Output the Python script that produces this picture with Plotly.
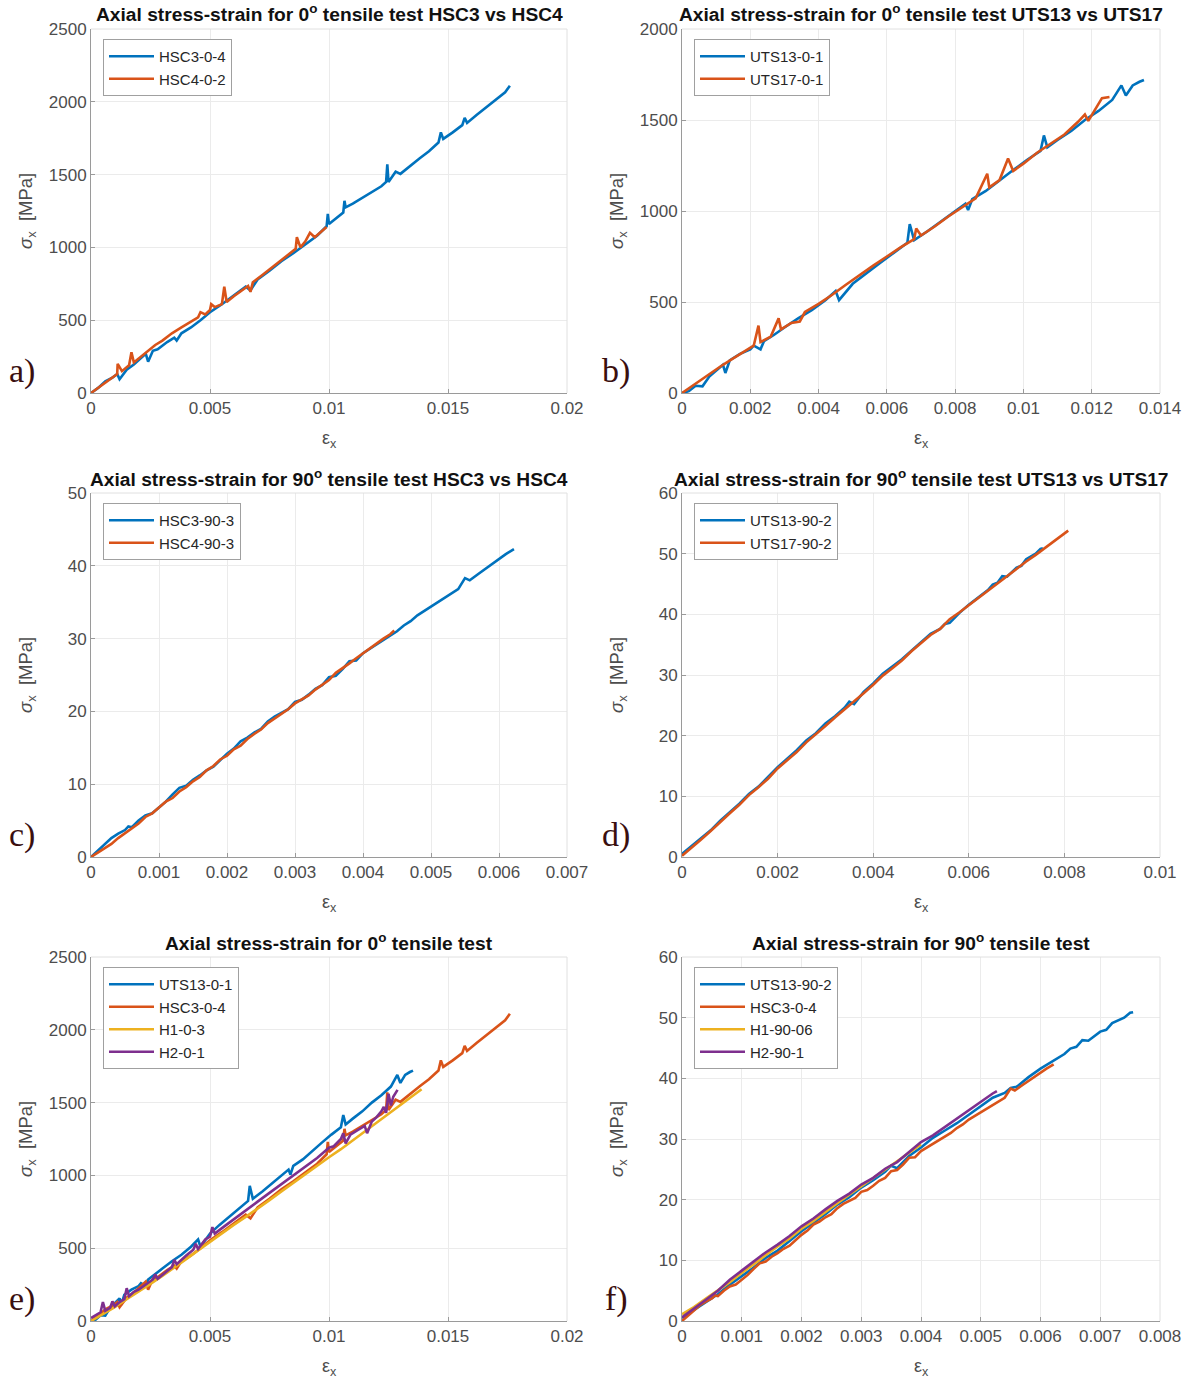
import plotly.graph_objects as go

BLUE, ORANGE, YELLOW, PURPLE = "#0072BD", "#D95319", "#EDB120", "#7E2F8E"

# ---------------- data (strain, stress MPa) ----------------
HSC3_0_4 = [(0, 0), (0.0003, 35), (0.0006, 80), (0.0009, 105), (0.0011, 130), (0.0012, 95), (0.0015, 160),
            (0.0018, 195), (0.0021, 240), (0.0023, 270), (0.0024, 215), (0.0026, 290), (0.0028, 300),
            (0.0032, 350), (0.0035, 380), (0.0036, 360), (0.0038, 410), (0.0042, 450), (0.0046, 500),
            (0.005, 555), (0.0055, 610), (0.006, 670), (0.0065, 730), (0.0067, 705), (0.007, 780),
            (0.0075, 840), (0.008, 905), (0.0085, 960), (0.009, 1020), (0.0095, 1080), (0.0099, 1145),
            (0.00995, 1230), (0.01, 1160), (0.0103, 1200), (0.0106, 1240), (0.01065, 1320), (0.0107, 1275),
            (0.011, 1300), (0.0114, 1340), (0.0118, 1380), (0.0122, 1420), (0.0124, 1450), (0.01245, 1570),
            (0.0125, 1450), (0.0127, 1500), (0.0128, 1520), (0.013, 1505), (0.0134, 1560), (0.0138, 1610),
            (0.0142, 1660), (0.0146, 1720), (0.0147, 1790), (0.0148, 1745), (0.0152, 1790), (0.0156, 1840),
            (0.0157, 1890), (0.0158, 1855), (0.0162, 1910), (0.0166, 1960), (0.017, 2010), (0.0174, 2065),
            (0.0176, 2110)]

HSC4_0_2 = [(0, 0), (0.0003, 35), (0.0006, 70), (0.0009, 105), (0.0011, 130), (0.00112, 200), (0.0013, 150),
            (0.0016, 190), (0.0017, 280), (0.0018, 210), (0.0021, 250), (0.0024, 290), (0.0027, 330),
            (0.003, 360), (0.0034, 410), (0.0038, 450), (0.0042, 490), (0.0045, 520), (0.0046, 555),
            (0.0048, 540), (0.005, 570), (0.00505, 610), (0.0052, 590), (0.0055, 610), (0.0056, 730),
            (0.0057, 625), (0.006, 665), (0.0063, 700), (0.0066, 735), (0.0067, 695), (0.0068, 760),
            (0.0072, 810), (0.0076, 860), (0.008, 910), (0.0083, 950), (0.0086, 990), (0.00865, 1070),
            (0.0088, 1000), (0.009, 1040), (0.0092, 1100), (0.0094, 1070), (0.0097, 1110), (0.0099, 1140)]

UTS13_0_1 = [(0, 0), (0.0002, 10), (0.0004, 40), (0.0006, 37), (0.0008, 90), (0.001, 120), (0.0012, 155),
             (0.00127, 110), (0.0014, 180), (0.0017, 215), (0.002, 240), (0.0021, 260), (0.0023, 240),
             (0.0024, 285), (0.0027, 320), (0.003, 360), (0.0034, 410), (0.0038, 455), (0.0042, 510),
             (0.0045, 560), (0.0046, 510), (0.005, 600), (0.0054, 660), (0.0058, 715), (0.0062, 770),
             (0.0066, 825), (0.00667, 928), (0.0068, 840), (0.0072, 890), (0.0076, 945), (0.008, 995),
             (0.0083, 1040), (0.00838, 1005), (0.0085, 1065), (0.0089, 1110), (0.0093, 1170), (0.0097, 1225),
             (0.0101, 1280), (0.0105, 1330), (0.0106, 1415), (0.0107, 1350), (0.011, 1390), (0.0114, 1440),
             (0.0118, 1500), (0.0122, 1550), (0.0126, 1610), (0.01287, 1690), (0.013, 1635), (0.0132, 1690),
             (0.0134, 1710), (0.01353, 1720)]

UTS17_0_1 = [(0, 0), (0.0003, 40), (0.0006, 80), (0.0009, 115), (0.0012, 155), (0.0015, 190), (0.0018, 225),
             (0.0021, 260), (0.00224, 370), (0.0023, 280), (0.0026, 310), (0.00283, 410), (0.0029, 350),
             (0.0032, 385), (0.00345, 393), (0.0036, 445), (0.004, 490), (0.0044, 540), (0.0048, 595),
             (0.0052, 650), (0.0056, 700), (0.006, 750), (0.0064, 800), (0.0068, 845), (0.00686, 904),
             (0.007, 865), (0.0074, 915), (0.0078, 970), (0.0082, 1020), (0.0086, 1070), (0.00894, 1205),
             (0.009, 1130), (0.0093, 1170), (0.00955, 1288), (0.0097, 1220), (0.01, 1260), (0.0104, 1320),
             (0.0108, 1370), (0.0112, 1420), (0.0116, 1490), (0.0118, 1530), (0.0119, 1495), (0.0121, 1560),
             (0.0123, 1620), (0.01252, 1626)]

HSC3_90_3 = [(0, 0), (0.0001, 0.9), (0.0002, 1.8), (0.0003, 2.6), (0.0004, 3.2), (0.0005, 3.7), (0.00055, 4.2),
             (0.0006, 4.1), (0.0007, 5.0), (0.0008, 5.7), (0.0009, 6.0), (0.001, 6.8), (0.0011, 7.6),
             (0.0012, 8.6), (0.0013, 9.5), (0.0014, 9.8), (0.0015, 10.6), (0.0016, 11.2), (0.0017, 11.9),
             (0.0018, 12.4), (0.0019, 13.3), (0.002, 14.2), (0.0021, 14.9), (0.0022, 15.9), (0.0023, 16.4),
             (0.0024, 17.1), (0.0025, 17.6), (0.0026, 18.6), (0.0027, 19.3), (0.0028, 19.8), (0.0029, 20.3),
             (0.003, 21.3), (0.0031, 21.6), (0.0032, 22.3), (0.0033, 23.1), (0.0034, 23.6), (0.0035, 24.7),
             (0.0036, 24.9), (0.0037, 25.8), (0.0038, 26.9), (0.0039, 27.0), (0.004, 28.0), (0.0041, 28.6),
             (0.0042, 29.3), (0.0043, 29.8), (0.0044, 30.5), (0.0045, 31.0), (0.0046, 31.8), (0.0047, 32.4),
             (0.0048, 33.2), (0.0049, 33.8), (0.005, 34.3), (0.0051, 35.0), (0.0052, 35.5), (0.0053, 36.1),
             (0.0054, 36.8), (0.0055, 38.3), (0.00557, 38.0), (0.0057, 38.9), (0.0058, 39.6), (0.0059, 40.2),
             (0.006, 40.9), (0.0061, 41.6), (0.00622, 42.3)]

HSC4_90_3 = [(0, 0), (0.0001, 0.6), (0.0002, 1.2), (0.0003, 1.8), (0.0004, 2.6), (0.0005, 3.3), (0.0006, 3.9),
             (0.0007, 4.6), (0.0008, 5.5), (0.0009, 6.0), (0.001, 6.8), (0.0011, 7.6), (0.0012, 8.1),
             (0.0013, 9.0), (0.0014, 9.6), (0.0015, 10.4), (0.0016, 11.0), (0.0017, 11.9), (0.0018, 12.5),
             (0.0019, 13.4), (0.002, 13.9), (0.0021, 14.8), (0.0022, 15.3), (0.0023, 16.2), (0.0024, 16.9),
             (0.0025, 17.5), (0.0026, 18.4), (0.0027, 19.0), (0.0028, 19.6), (0.0029, 20.3), (0.003, 21.1),
             (0.0031, 21.6), (0.0032, 22.2), (0.0033, 23.0), (0.0034, 23.7), (0.0035, 24.3), (0.0036, 25.3),
             (0.0037, 25.9), (0.0038, 26.6), (0.0039, 27.3), (0.004, 28.0), (0.0041, 28.6), (0.0042, 29.3),
             (0.0043, 30.0), (0.0044, 30.6), (0.00446, 31.1)]

UTS13_90_2 = [(0, 0.5), (0.0002, 1.8), (0.0004, 3.2), (0.0006, 4.4), (0.0008, 6.0), (0.001, 7.4), (0.0012, 8.8),
              (0.0014, 10.4), (0.0016, 11.6), (0.0018, 13.2), (0.002, 14.8), (0.0022, 16.2), (0.0024, 17.6),
              (0.0026, 19.2), (0.0028, 20.4), (0.003, 22.0), (0.0032, 23.2), (0.0034, 24.6), (0.0035, 25.6),
              (0.0036, 25.2), (0.0038, 27.2), (0.004, 28.6), (0.0042, 30.2), (0.0044, 31.4), (0.0046, 32.6),
              (0.0048, 34.0), (0.005, 35.4), (0.0052, 36.8), (0.0054, 37.6), (0.0055, 38.4), (0.0056, 38.6),
              (0.0058, 40.2), (0.006, 41.6), (0.0062, 42.8), (0.0064, 44.0), (0.0065, 44.9), (0.0066, 45.2),
              (0.0067, 46.3), (0.0068, 46.2), (0.007, 47.7), (0.0071, 48.0), (0.0072, 49.1), (0.0074, 50.0),
              (0.0075, 50.8), (0.00755, 50.9)]

UTS17_90_2 = [(0, 0.2), (0.0002, 1.5), (0.0004, 2.9), (0.0006, 4.3), (0.0008, 5.8), (0.001, 7.2), (0.0012, 8.6),
              (0.0014, 10.2), (0.0016, 11.5), (0.0018, 12.9), (0.002, 14.6), (0.0022, 16.0), (0.0024, 17.3),
              (0.0026, 18.9), (0.0028, 20.2), (0.003, 21.6), (0.0032, 23.0), (0.0034, 24.3), (0.0036, 25.6),
              (0.0038, 27.0), (0.004, 28.4), (0.0042, 29.9), (0.0044, 31.1), (0.0046, 32.4), (0.0048, 33.9),
              (0.005, 35.2), (0.0052, 36.6), (0.0054, 37.6), (0.0056, 39.2), (0.0058, 40.3), (0.006, 41.5),
              (0.0062, 42.7), (0.0064, 43.9), (0.0066, 45.1), (0.0068, 46.4), (0.007, 47.5), (0.0072, 48.7),
              (0.0074, 49.8), (0.0076, 51.0), (0.0078, 52.2), (0.008, 53.3), (0.00808, 53.8)]

H1_0_3 = [(0, 0), (0.0005, 45), (0.001, 95), (0.0015, 150), (0.002, 200), (0.0025, 255), (0.003, 310),
          (0.0035, 365), (0.004, 425), (0.0045, 485), (0.005, 545), (0.0055, 605), (0.006, 660), (0.0065, 715),
          (0.007, 770), (0.0075, 830), (0.008, 890), (0.0085, 950), (0.009, 1010), (0.0095, 1070), (0.01, 1125),
          (0.0105, 1180), (0.011, 1240), (0.0115, 1300), (0.012, 1360), (0.0125, 1420), (0.013, 1480),
          (0.0135, 1540), (0.01389, 1592)]

H2_0_1 = [(0, 20), (0.0002, 40), (0.0004, 60), (0.0005, 130), (0.0006, 70), (0.0008, 90), (0.0009, 135),
          (0.001, 100), (0.0012, 130), (0.0014, 150), (0.0015, 225), (0.0016, 170), (0.0018, 200), (0.002, 215),
          (0.0023, 250), (0.0026, 285), (0.0027, 320), (0.0028, 290), (0.0031, 330), (0.0034, 370),
          (0.0035, 420), (0.0036, 390), (0.004, 450), (0.0043, 490), (0.0044, 530), (0.0045, 495),
          (0.0048, 560), (0.005, 580), (0.0051, 645), (0.0052, 600), (0.0056, 650), (0.006, 700),
          (0.0062, 720), (0.0065, 760), (0.007, 820), (0.0075, 880), (0.008, 940), (0.0085, 1000),
          (0.009, 1060), (0.0095, 1120), (0.01, 1190), (0.0102, 1200), (0.0105, 1250), (0.0106, 1290),
          (0.0107, 1220), (0.0109, 1280), (0.0112, 1310), (0.0115, 1340), (0.0116, 1290), (0.0118, 1370),
          (0.012, 1400), (0.0122, 1440), (0.0123, 1470), (0.0124, 1430), (0.0125, 1560), (0.0126, 1480),
          (0.0127, 1540), (0.01288, 1587)]

H1_90_06 = [(0, 1.1), (0.0002, 2.3), (0.0004, 3.7), (0.0006, 5.0), (0.0008, 6.4), (0.001, 7.9), (0.0012, 9.4),
            (0.0014, 10.9), (0.0016, 12.3), (0.0018, 13.6), (0.002, 15.2), (0.0022, 16.5), (0.0024, 18.0),
            (0.0026, 19.4), (0.0028, 20.8), (0.003, 22.2), (0.0032, 23.6), (0.0034, 25.0), (0.0036, 26.4),
            (0.0038, 27.8), (0.004, 29.1)]

H2_90_1 = [(0, 0.6), (0.0002, 2.0), (0.0004, 3.5), (0.0006, 5.0), (0.0008, 6.8), (0.001, 8.3), (0.0012, 9.8),
           (0.0014, 11.3), (0.0016, 12.6), (0.0018, 14.0), (0.002, 15.6), (0.0022, 16.9), (0.0024, 18.4),
           (0.0026, 19.8), (0.0028, 21.0), (0.003, 22.5), (0.0032, 23.6), (0.0034, 25.1), (0.0036, 26.2),
           (0.0038, 27.9), (0.004, 29.5), (0.0042, 30.6), (0.0044, 32.0), (0.0046, 33.4), (0.0048, 34.7),
           (0.005, 36.2), (0.0052, 37.5), (0.00527, 37.9)]

# ---------------- ticks ----------------
X_TICKS_020 = [0, 0.005, 0.01, 0.015, 0.02]
X_LABELS_020 = ["0", "0.005", "0.01", "0.015", "0.02"]
X_TICKS_014 = [0, 0.002, 0.004, 0.006, 0.008, 0.01, 0.012, 0.014]
X_LABELS_014 = ["0", "0.002", "0.004", "0.006", "0.008", "0.01", "0.012", "0.014"]
X_TICKS_007 = [0, 0.001, 0.002, 0.003, 0.004, 0.005, 0.006, 0.007]
X_LABELS_007 = ["0", "0.001", "0.002", "0.003", "0.004", "0.005", "0.006", "0.007"]
X_TICKS_010 = [0, 0.002, 0.004, 0.006, 0.008, 0.01]
X_LABELS_010 = ["0", "0.002", "0.004", "0.006", "0.008", "0.01"]
X_TICKS_008 = [0, 0.001, 0.002, 0.003, 0.004, 0.005, 0.006, 0.007, 0.008]
X_LABELS_008 = ["0", "0.001", "0.002", "0.003", "0.004", "0.005", "0.006", "0.007", "0.008"]
Y_TICKS_2500 = [0, 500, 1000, 1500, 2000, 2500]
Y_TICKS_2000 = [0, 500, 1000, 1500, 2000]
Y_TICKS_50 = [0, 10, 20, 30, 40, 50]
Y_TICKS_60 = [0, 10, 20, 30, 40, 50, 60]

TITLES = [
    "Axial stress-strain for 0<sup>o</sup> tensile test HSC3 vs HSC4",
    "Axial stress-strain for 0<sup>o</sup> tensile test UTS13 vs UTS17",
    "Axial stress-strain for 90<sup>o</sup> tensile test HSC3 vs HSC4",
    "Axial stress-strain for 90<sup>o</sup> tensile test UTS13 vs UTS17",
    "Axial stress-strain for 0<sup>o</sup> tensile test",
    "Axial stress-strain for 90<sup>o</sup> tensile test",
]
LETTERS = ["a)", "b)", "c)", "d)", "e)", "f)"]

panels = [
    dict(series=[("HSC3-0-4", HSC3_0_4, BLUE), ("HSC4-0-2", HSC4_0_2, ORANGE)],
         xt=X_TICKS_020, xl=X_LABELS_020, yt=Y_TICKS_2500),
    dict(series=[("UTS13-0-1", UTS13_0_1, BLUE), ("UTS17-0-1", UTS17_0_1, ORANGE)],
         xt=X_TICKS_014, xl=X_LABELS_014, yt=Y_TICKS_2000),
    dict(series=[("HSC3-90-3", HSC3_90_3, BLUE), ("HSC4-90-3", HSC4_90_3, ORANGE)],
         xt=X_TICKS_007, xl=X_LABELS_007, yt=Y_TICKS_50),
    dict(series=[("UTS13-90-2", UTS13_90_2, BLUE), ("UTS17-90-2", UTS17_90_2, ORANGE)],
         xt=X_TICKS_010, xl=X_LABELS_010, yt=Y_TICKS_60),
    dict(series=[("UTS13-0-1", UTS13_0_1, BLUE), ("HSC3-0-4", HSC3_0_4, ORANGE),
                 ("H1-0-3", H1_0_3, YELLOW), ("H2-0-1", H2_0_1, PURPLE)],
         xt=X_TICKS_020, xl=X_LABELS_020, yt=Y_TICKS_2500),
    dict(series=[("UTS13-90-2", UTS13_90_2, BLUE), ("HSC3-0-4", HSC3_90_3, ORANGE),
                 ("H1-90-06", H1_90_06, YELLOW), ("H2-90-1", H2_90_1, PURPLE)],
         xt=X_TICKS_008, xl=X_LABELS_008, yt=Y_TICKS_60),
]

# ---------------- layout geometry (page pixels) ----------------
W, H = 1186, 1381
COLS = [(91, 567), (682, 1160)]
ROWS = [(29, 393), (493, 857), (957, 1321)]
LETTER_X = [22, 616]

FONT = "Liberation Sans, Arial, Helvetica, sans-serif"
TICKCOL = "#4d4d4d"
AXCOL = "#9a9a9a"
GRIDCOL = "#ebebeb"


def px(x):
    return x / W


def py(y):
    return 1 - y / H


fig = go.Figure()
layout = dict(width=W, height=H, margin=dict(l=0, r=0, t=0, b=0, pad=0, autoexpand=False),
              paper_bgcolor="white", plot_bgcolor="white",
              font=dict(family=FONT, color=TICKCOL), annotations=[], shapes=[])

for i, p in enumerate(panels):
    r, c = divmod(i, 2)
    x0, x1 = COLS[c]
    y0, y1 = ROWS[r]
    n = i + 1
    xa = "x" if n == 1 else f"x{n}"
    ya = "y" if n == 1 else f"y{n}"
    lg = "legend" if n == 1 else f"legend{n}"
    for name, pts, col in p["series"]:
        fig.add_trace(go.Scatter(x=[q[0] for q in pts], y=[q[1] for q in pts], mode="lines",
                                 name=name, line=dict(color=col, width=2.6),
                                 xaxis=xa, yaxis=ya, legend=lg))
    common = dict(showgrid=True, gridcolor=GRIDCOL, gridwidth=1, zeroline=False, automargin=False,
                  showline=True, linecolor=AXCOL, linewidth=1, ticks="inside", ticklen=4,
                  tickcolor=AXCOL, tickfont=dict(family=FONT, size=17, color=TICKCOL))
    layout["xaxis" if n == 1 else f"xaxis{n}"] = dict(
        domain=[px(x0), px(x1)], anchor=ya, range=[p["xt"][0], p["xt"][-1]],
        tickmode="array", tickvals=p["xt"], ticktext=p["xl"], **common)
    layout["yaxis" if n == 1 else f"yaxis{n}"] = dict(
        domain=[py(y1), py(y0)], anchor=xa, range=[p["yt"][0], p["yt"][-1]],
        tickmode="array", tickvals=p["yt"], ticktext=[str(v) for v in p["yt"]], **common)
    layout[lg] = dict(x=px(x0 + 12), y=py(y0 + 10), xanchor="left", yanchor="top",
                      bgcolor="white", bordercolor="#a0a0a0", borderwidth=1, itemwidth=45,
                      font=dict(family=FONT, size=15, color="#262626"), tracegroupgap=0)
    # light top/right box lines
    layout["shapes"].append(dict(type="line", xref=f"{xa} domain", yref=f"{ya} domain",
                                 x0=0, x1=1, y0=1, y1=1, line=dict(color="#e0e0e0", width=1)))
    layout["shapes"].append(dict(type="line", xref=f"{xa} domain", yref=f"{ya} domain",
                                 x0=1, x1=1, y0=0, y1=1, line=dict(color="#e0e0e0", width=1)))
    # title
    layout["annotations"].append(dict(text=f"<b>{TITLES[i]}</b>", x=px((x0 + x1) / 2), y=py(y0 - 15.5),
                                      xref="paper", yref="paper", showarrow=False,
                                      xanchor="center", yanchor="middle",
                                      font=dict(family=FONT, size=19.2, color="#111111")))
    # x label
    layout["annotations"].append(dict(text="ε<sub>x</sub>", x=px((x0 + x1) / 2), y=py(y1 + 46),
                                      xref="paper", yref="paper", showarrow=False,
                                      xanchor="center", yanchor="middle",
                                      font=dict(family=FONT, size=18, color=TICKCOL)))
    # y label
    layout["annotations"].append(dict(text="<i>σ</i><sub>x</sub>  [MPa]", x=px(x0 - 64), y=py((y0 + y1) / 2),
                                      xref="paper", yref="paper", showarrow=False, textangle=-90,
                                      xanchor="center", yanchor="middle",
                                      font=dict(family=FONT, size=18.5, color=TICKCOL)))
    # panel letter
    layout["annotations"].append(dict(text=LETTERS[i], x=px(LETTER_X[c]), y=py(y1 - 22),
                                      xref="paper", yref="paper", showarrow=False,
                                      xanchor="center", yanchor="middle",
                                      font=dict(family="Liberation Serif, Times New Roman, serif",
                                                size=34, color="#3a0f0f")))

fig.update_layout(**layout)
fig.write_html("out.html", config={"displayModeBar": False},
               post_script="document.body.style.margin='0';document.body.style.overflow='hidden';")
